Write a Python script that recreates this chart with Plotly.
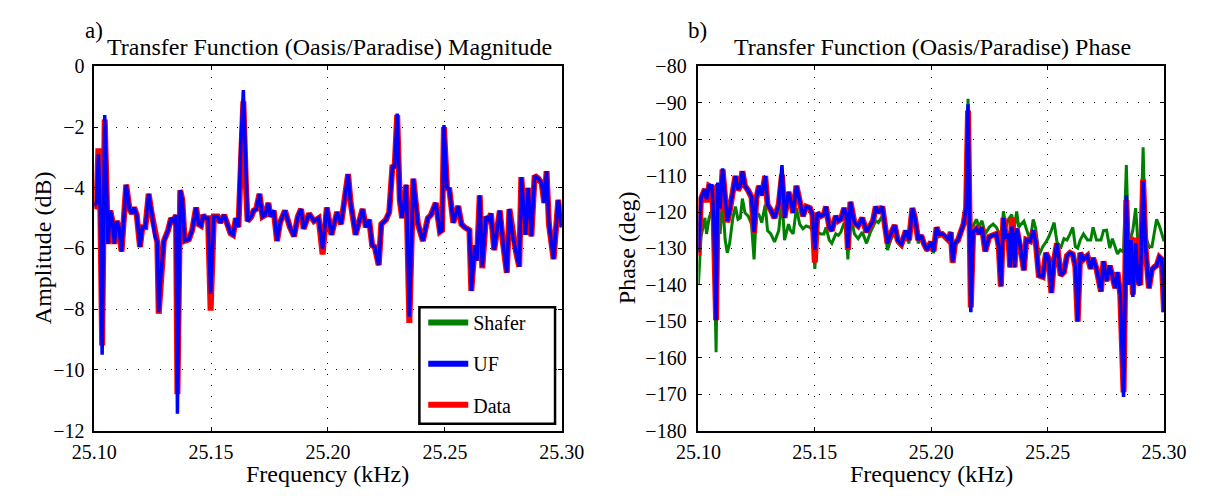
import plotly.graph_objects as go

# ---------------- Magnitude (left panel) ----------------
mag_freq = [25.1000, 25.1010, 25.1018, 25.1026, 25.1034, 25.1045, 25.1059, 25.1069, 25.1078, 25.1086,
            25.1096, 25.1106, 25.1117, 25.1137, 25.1151, 25.1162, 25.1171, 25.1182, 25.1196, 25.1206,
            25.1219, 25.1233, 25.1247, 25.1260, 25.1270, 25.1276, 25.1284, 25.1298, 25.1316, 25.1329,
            25.1339, 25.1350, 25.1356, 25.1368, 25.1377, 25.1387, 25.1405, 25.1419, 25.1436, 25.1446,
            25.1457, 25.1466, 25.1476, 25.1487, 25.1498, 25.1512, 25.1528, 25.1539, 25.1556, 25.1567,
            25.1583, 25.1594, 25.1606, 25.1617, 25.1627, 25.1638, 25.1649, 25.1656, 25.1672, 25.1682,
            25.1693, 25.1707, 25.1720, 25.1731, 25.1745, 25.1754, 25.1768, 25.1782, 25.1795, 25.1816,
            25.1837, 25.1855, 25.1871, 25.1885, 25.1896, 25.1919, 25.1940, 25.1960, 25.1977, 25.1995,
            25.2015, 25.2039, 25.2056, 25.2086, 25.2097, 25.2118, 25.2148, 25.2162, 25.2176, 25.2189,
            25.2200, 25.2217, 25.2228, 25.2248, 25.2262, 25.2276, 25.2285, 25.2296, 25.2307, 25.2317,
            25.2335, 25.2348, 25.2365, 25.2385, 25.2406, 25.2427, 25.2440, 25.2461, 25.2479, 25.2488,
            25.2496, 25.2509, 25.2519, 25.2536, 25.2557, 25.2571, 25.2584, 25.2605, 25.2613, 25.2628,
            25.2637, 25.2649, 25.2660, 25.2676, 25.2687, 25.2697, 25.2711, 25.2735, 25.2749, 25.2765,
            25.2776, 25.2790, 25.2804, 25.2818, 25.2827, 25.2845, 25.2856, 25.2870, 25.2884, 25.2900,
            25.2914, 25.2925, 25.2935, 25.2945, 25.2965, 25.2985, 25.3000]

mag_data = [-4.70, -4.40, -2.70, -4.50, -9.20, -1.75, -5.85, -4.75, -5.10, -5.85,
            -5.10, -5.30, -6.10, -3.90, -4.70, -4.85, -4.65, -4.90, -5.95, -5.30,
            -5.30, -4.20, -4.90, -5.60, -5.80, -8.15, -7.20, -5.75, -5.40, -5.00,
            -5.10, -4.90, -10.80, -4.08, -4.40, -5.75, -5.70, -5.40, -4.65, -5.20,
            -5.25, -4.90, -5.00, -5.00, -8.05, -4.95, -4.95, -5.15, -4.90, -5.15,
            -5.50, -5.55, -5.00, -5.30, -2.60, -1.15, -3.90, -5.10, -4.95, -4.75,
            -4.70, -4.20, -4.95, -4.90, -4.50, -4.95, -4.75, -5.75, -5.15, -4.75,
            -5.30, -5.60, -4.95, -4.70, -5.35, -4.85, -5.10, -5.00, -6.20, -4.65,
            -5.55, -4.80, -5.20, -3.55, -4.50, -5.55, -4.70, -5.30, -5.05, -5.90,
            -5.95, -6.55, -5.20, -5.05, -4.80, -3.25, -3.35, -1.60, -4.40, -5.00,
            -3.90, -8.45, -3.70, -5.20, -5.75, -5.00, -4.90, -4.50, -5.45, -5.40,
            -2.00, -4.00, -4.05, -5.15, -4.60, -5.20, -5.30, -5.40, -7.40, -5.90,
            -6.40, -4.25, -6.65, -4.95, -5.05, -4.85, -6.05, -4.75, -5.85, -6.80,
            -4.70, -5.60, -6.10, -6.60, -3.65, -5.55, -4.00, -5.60, -3.60, -3.70,
            -3.85, -4.50, -3.45, -5.20, -6.35, -4.40, -5.30]

mag_uf = [-4.60, -4.50, -2.90, -4.80, -9.50, -1.60, -5.85, -4.75, -5.10, -5.85,
          -5.10, -5.30, -6.10, -3.90, -4.70, -4.85, -4.65, -4.90, -5.95, -5.30,
          -5.30, -4.20, -4.90, -5.60, -5.80, -8.10, -7.00, -5.75, -5.40, -5.00,
          -5.10, -4.90, -11.45, -4.08, -4.40, -5.75, -5.70, -5.40, -4.65, -5.20,
          -5.25, -4.90, -5.00, -5.00, -7.50, -4.95, -4.95, -5.15, -4.90, -5.15,
          -5.50, -5.55, -5.00, -5.30, -2.60, -0.78, -3.90, -5.10, -4.95, -4.75,
          -4.70, -4.20, -4.95, -4.90, -4.50, -4.95, -4.75, -5.75, -5.15, -4.75,
          -5.30, -5.60, -4.95, -4.70, -5.35, -4.85, -5.10, -5.00, -6.00, -4.65,
          -5.55, -4.80, -5.20, -3.55, -4.50, -5.55, -4.70, -5.30, -5.05, -5.90,
          -5.95, -6.55, -5.20, -5.05, -4.80, -3.25, -3.35, -1.55, -4.40, -5.00,
          -3.90, -8.25, -3.70, -5.20, -5.75, -5.00, -4.90, -4.50, -5.45, -5.40,
          -1.93, -4.00, -4.05, -5.15, -4.60, -5.20, -5.30, -5.40, -7.40, -5.90,
          -6.40, -4.25, -6.60, -4.95, -5.05, -4.85, -6.05, -4.75, -5.85, -6.80,
          -4.70, -5.60, -6.10, -6.60, -3.65, -5.55, -4.00, -5.60, -3.60, -3.70,
          -3.85, -4.50, -3.45, -5.20, -6.35, -4.40, -5.30]

# ---------------- Phase (right panel) ----------------
ph_freq = [25.1000, 25.1011, 25.1028, 25.1035, 25.1046, 25.1058, 25.1066, 25.1076, 25.1083, 25.1093,
           25.1104, 25.1115, 25.1124, 25.1134, 25.1148, 25.1159, 25.1170, 25.1180, 25.1189, 25.1200,
           25.1214, 25.1228, 25.1239, 25.1249, 25.1260, 25.1272, 25.1287, 25.1297, 25.1311, 25.1327,
           25.1345, 25.1359, 25.1370, 25.1387, 25.1396, 25.1407, 25.1421, 25.1435, 25.1449, 25.1463,
           25.1479, 25.1490, 25.1500, 25.1511, 25.1525, 25.1539, 25.1548, 25.1562, 25.1573, 25.1590,
           25.1601, 25.1612, 25.1626, 25.1635, 25.1642, 25.1653, 25.1670, 25.1686, 25.1704, 25.1722,
           25.1739, 25.1750, 25.1762, 25.1773, 25.1790, 25.1801, 25.1812, 25.1826, 25.1843, 25.1856,
           25.1872, 25.1891, 25.1905, 25.1919, 25.1930, 25.1944, 25.1957, 25.1968, 25.1982, 25.1999,
           25.2010, 25.2023, 25.2033, 25.2047, 25.2065, 25.2074, 25.2084, 25.2092, 25.2102, 25.2115,
           25.2125, 25.2139, 25.2150, 25.2158, 25.2170, 25.2180, 25.2194, 25.2205, 25.2218, 25.2232,
           25.2249, 25.2266, 25.2280, 25.2290, 25.2299, 25.2310, 25.2321, 25.2331, 25.2339, 25.2346,
           25.2353, 25.2358, 25.2367, 25.2376, 25.2386, 25.2398, 25.2408, 25.2425, 25.2438, 25.2449,
           25.2462, 25.2479, 25.2493, 25.2505, 25.2516, 25.2528, 25.2540, 25.2556, 25.2570, 25.2583,
           25.2596, 25.2608, 25.2619, 25.2629, 25.2640, 25.2654, 25.2671, 25.2685, 25.2695, 25.2710,
           25.2729, 25.2740, 25.2753, 25.2767, 25.2778, 25.2790, 25.2800, 25.2812, 25.2826, 25.2838,
           25.2848, 25.2858, 25.2866, 25.2878, 25.2888, 25.2898, 25.2910, 25.2920, 25.2935, 25.2948,
           25.2960, 25.2968, 25.2980, 25.2990, 25.3000]

ph_uf = [-131.0, -116.3, -113.7, -116.5, -112.8, -112.8, -122.0, -149.7, -111.9, -119.0,
         -108.0, -117.2, -122.4, -119.8, -113.7, -110.1, -113.7, -112.8, -108.8, -112.8,
         -114.1, -115.9, -125.5, -116.3, -112.8, -115.4, -110.1, -118.0, -119.4, -121.6,
         -118.0, -107.1, -121.6, -114.5, -116.7, -120.2, -112.8, -117.2, -121.1, -118.5,
         -118.9, -120.7, -130.4, -120.2, -121.1, -120.7, -118.5, -124.2, -125.1, -121.1,
         -122.4, -122.0, -118.9, -120.7, -129.9, -117.2, -122.9, -123.8, -121.6, -125.5,
         -123.3, -122.4, -118.5, -120.2, -118.5, -124.2, -128.6, -126.0, -123.6, -127.7,
         -128.8, -125.1, -127.7, -118.9, -121.6, -127.7, -126.4, -128.6, -130.4, -128.2,
         -130.8, -124.2, -126.0, -126.0, -126.8, -127.7, -125.5, -133.7, -128.6, -127.7,
         -125.8, -123.3, -118.9, -90.4, -147.5, -125.5, -124.6, -126.0, -124.2, -130.8,
         -126.8, -126.4, -126.0, -129.5, -140.4, -121.6, -126.8, -126.4, -135.2, -124.0,
         -126.8, -135.2, -124.5, -126.8, -131.0, -136.0, -127.6, -128.0, -125.0, -128.2,
         -137.4, -137.8, -131.2, -133.0, -142.2, -133.0, -128.6, -137.4, -136.5, -132.0,
         -131.2, -131.6, -135.0, -150.1, -131.2, -133.0, -132.0, -135.6, -132.6, -135.6,
         -141.8, -133.5, -139.0, -134.7, -137.5, -140.9, -136.5, -142.7, -170.8, -115.4,
         -140.0, -127.7, -143.3, -128.5, -139.1, -140.0, -111.5, -129.5, -140.9, -135.8,
         -135.0, -134.7, -132.4, -133.0, -147.5]

ph_data = [-132.0, -116.3, -113.7, -117.3, -112.8, -113.2, -122.5, -149.7, -112.3, -119.5,
           -108.3, -117.2, -122.8, -119.8, -113.7, -110.1, -114.0, -112.8, -108.8, -112.8,
           -114.1, -115.9, -125.8, -116.3, -112.8, -115.4, -110.1, -118.0, -119.4, -121.6,
           -118.0, -109.7, -121.6, -114.5, -116.7, -120.2, -112.8, -117.2, -121.1, -118.5,
           -118.9, -120.7, -133.9, -120.2, -121.1, -120.7, -118.5, -124.2, -125.1, -121.1,
           -122.4, -122.0, -118.9, -120.7, -130.4, -117.2, -122.9, -123.8, -121.6, -125.5,
           -123.3, -122.4, -118.5, -120.2, -118.5, -124.2, -128.6, -126.0, -123.6, -127.7,
           -128.8, -125.1, -127.7, -118.9, -121.6, -127.7, -126.4, -128.6, -130.4, -128.2,
           -130.8, -124.2, -126.0, -126.0, -126.8, -127.7, -125.5, -133.9, -128.6, -127.7,
           -125.8, -123.3, -118.9, -92.1, -146.2, -125.5, -124.6, -126.0, -124.2, -130.8,
           -126.8, -126.4, -126.0, -129.5, -140.4, -121.6, -126.8, -126.4, -135.2, -121.5,
           -126.8, -135.2, -124.5, -126.8, -131.0, -136.0, -127.6, -128.0, -125.0, -128.2,
           -137.4, -137.8, -131.2, -133.0, -142.2, -133.0, -128.6, -137.4, -136.5, -132.0,
           -131.2, -131.6, -135.0, -150.1, -131.2, -133.0, -132.0, -135.6, -132.6, -135.6,
           -141.8, -133.5, -139.0, -134.7, -137.5, -140.9, -136.5, -142.7, -169.5, -116.7,
           -140.0, -126.8, -142.7, -127.0, -139.1, -140.0, -111.0, -129.5, -140.9, -135.8,
           -135.0, -134.7, -132.4, -133.0, -147.5]

ph_shafer = [-140.0, -126.8, -121.6, -126.0, -121.6, -119.5, -128.0, -158.5, -124.0, -126.0,
             -117.0, -127.7, -131.2, -128.6, -121.6, -118.5, -122.0, -121.6, -116.3, -120.2,
             -121.1, -123.3, -133.0, -120.2, -120.7, -122.9, -118.0, -125.1, -126.0, -128.2,
             -125.1, -116.3, -127.7, -123.3, -125.1, -126.0, -118.9, -123.3, -124.6, -123.8,
             -124.2, -125.1, -135.6, -125.5, -126.0, -126.0, -124.2, -127.7, -128.6, -126.0,
             -126.4, -125.5, -122.9, -125.5, -133.0, -120.7, -126.0, -127.3, -125.5, -128.6,
             -125.5, -124.2, -122.4, -122.9, -121.1, -125.1, -130.4, -127.7, -125.5, -128.5,
             -129.5, -126.8, -128.6, -119.8, -122.5, -128.6, -127.0, -129.0, -130.8, -128.6,
             -131.3, -125.0, -126.8, -126.4, -127.5, -128.2, -126.0, -134.0, -129.0, -128.0,
             -126.0, -122.0, -118.5, -88.9, -124.0, -123.8, -122.0, -124.0, -122.4, -126.0,
             -124.2, -123.3, -124.2, -125.5, -129.5, -119.8, -124.2, -122.0, -121.3, -120.7,
             -124.2, -124.0, -119.8, -124.2, -123.3, -122.5, -124.5, -127.8, -122.0, -124.6,
             -132.0, -129.5, -128.2, -126.8, -125.0, -122.9, -128.2, -129.9, -127.3, -127.7,
             -126.0, -124.2, -129.5, -129.9, -127.7, -126.0, -127.7, -127.7, -124.2, -127.7,
             -127.7, -125.1, -125.0, -129.9, -127.3, -129.5, -131.5, -130.4, -131.0, -107.1,
             -130.4, -126.8, -125.0, -118.9, -128.5, -131.0, -102.2, -126.5, -129.5, -129.5,
             -124.2, -122.0, -123.8, -126.0, -128.0]

x_ticks = [25.10, 25.15, 25.20, 25.25, 25.30]

GREEN = "#008000"
BLUE = "#0000ff"
RED = "#ff0000"
FONT = "Liberation Serif, Times New Roman, Times, serif"
W, H = 1214, 496

fig = go.Figure()

# left panel
fig.add_trace(go.Scatter(x=mag_freq, y=mag_data, mode="lines", line=dict(color=RED, width=6),
                         xaxis="x", yaxis="y", showlegend=False))
fig.add_trace(go.Scatter(x=mag_freq, y=mag_uf, mode="lines", line=dict(color=BLUE, width=3.5),
                         xaxis="x", yaxis="y", showlegend=False))
# right panel
fig.add_trace(go.Scatter(x=ph_freq, y=ph_shafer, mode="lines", line=dict(color=GREEN, width=3),
                         xaxis="x2", yaxis="y2", showlegend=False))
fig.add_trace(go.Scatter(x=ph_freq, y=ph_data, mode="lines", line=dict(color=RED, width=6),
                         xaxis="x2", yaxis="y2", showlegend=False))
fig.add_trace(go.Scatter(x=ph_freq, y=ph_uf, mode="lines", line=dict(color=BLUE, width=3.5),
                         xaxis="x2", yaxis="y2", showlegend=False))

# legend entries (one legend per row, inside a common framed box)
legend_rows = [("Shafer", GREEN, "legend", 326), ("UF", BLUE, "legend2", 369), ("Data", RED, "legend3", 412)]
for nm, col, lg, _ in legend_rows:
    fig.add_trace(go.Scatter(x=[None], y=[None], mode="lines", name=nm,
                             line=dict(color=col, width=6), xaxis="x", yaxis="y", legend=lg))

axis_common = dict(showline=True, linecolor="black", linewidth=1.5, mirror="ticks",
                   ticks="inside", ticklen=4, tickcolor="black",
                   showgrid=True, gridcolor="black", griddash="1px,10px", gridwidth=1,
                   zeroline=False, tickfont=dict(family=FONT, size=20, color="black"))

ydom = [1 - 439 / H, 1 - 58 / H]
layout_legends = {}
for nm, col, lg, yrow in legend_rows:
    layout_legends[lg] = dict(x=416 / W, y=1 - yrow / H, xanchor="left", yanchor="middle",
                              bgcolor="rgba(0,0,0,0)", borderwidth=0, itemwidth=40,
                              font=dict(family=FONT, size=20, color="black"))

fig.update_layout(
    width=W, height=H, margin=dict(l=0, r=0, t=0, b=0),
    paper_bgcolor="white", plot_bgcolor="white",
    font=dict(family=FONT, color="black"),
    xaxis=dict(domain=[74 / W, 560 / W], range=[25.10, 25.30], tickvals=x_ticks,
               tickformat=".2f", anchor="y", ticklabelstandoff=3, **axis_common),
    yaxis=dict(domain=ydom, range=[-12, 0], dtick=2, anchor="x", ticklabelstandoff=4, **axis_common),
    xaxis2=dict(domain=[702 / W, 1186 / W], range=[25.10, 25.30], tickvals=x_ticks,
                tickformat=".2f", anchor="y2", ticklabelstandoff=3, **axis_common),
    yaxis2=dict(domain=ydom, range=[-180, -80], dtick=10, anchor="x2", ticklabelstandoff=6,
                **axis_common),
    **layout_legends,
)

# legend frame
fig.add_shape(type="rect", xref="paper", yref="paper", x0=412 / W, x1=553 / W,
              y0=1 - 432 / H, y1=1 - 310 / H, line=dict(color="black", width=2.5),
              fillcolor="white", layer="above")

ann = [
    dict(text="a)", x=74 / W, y=1 - 20 / H, size=23),
    dict(text="b)", x=701 / W, y=1 - 20 / H, size=23),
    dict(text="Transfer Function (Oasis/Paradise) Magnitude", x=319 / W, y=1 - 38 / H, size=24),
    dict(text="Transfer Function (Oasis/Paradise) Phase", x=945 / W, y=1 - 38 / H, size=24),
    dict(text="Frequency (kHz)", x=317 / W, y=1 - 484 / H, size=24),
    dict(text="Frequency (kHz)", x=944 / W, y=1 - 484 / H, size=24),
]
for a in ann:
    fig.add_annotation(text=a["text"], x=a["x"], y=a["y"], xref="paper", yref="paper",
                       xanchor="center", yanchor="middle", showarrow=False,
                       font=dict(family=FONT, size=a["size"], color="black"))
for txt, xp in [("Amplitude (dB)", 21), ("Phase (deg)", 628)]:
    fig.add_annotation(text=txt, x=xp / W, y=1 - 248 / H, xref="paper", yref="paper",
                       xanchor="center", yanchor="middle", showarrow=False, textangle=-90,
                       font=dict(family=FONT, size=24, color="black"))

fig.write_html("out.html")
